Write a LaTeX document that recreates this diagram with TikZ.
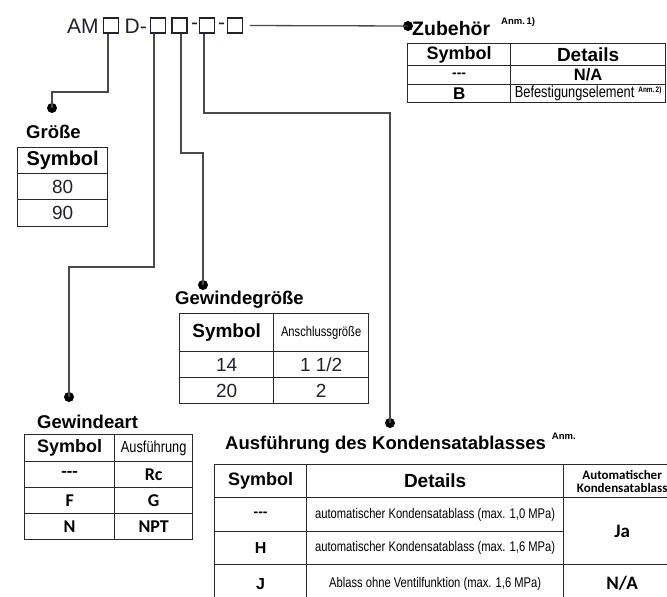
\documentclass[tikz,border=0pt]{standalone}
\usepackage{fontspec}
\setmainfont{Liberation Sans}
\newfontfamily\narrowfont[FakeStretch=0.8]{Liberation Sans}
\newfontfamily\calfont{Carlito}
\usetikzlibrary{positioning}
\definecolor{tabline}{HTML}{2A2A2A}
\definecolor{wireg}{HTML}{4A4A4A}
\definecolor{ink}{HTML}{22222E}
\newcommand{\tdash}{-{}-{}-}
\newcommand{\anmsup}[1]{\raisebox{0.55em}{\bfseries\fontsize{9.5}{10}\selectfont #1}}
\tikzset{
  cbox/.style={draw=ink,line width=1.3pt,minimum size=15pt,inner sep=0pt},
  ctxt/.style={inner sep=0pt,text=ink,font=\fontsize{21}{22}\selectfont},
  dotnode/.style={circle,fill=black,minimum size=10pt,inner sep=0pt},
  wire/.style={draw=wireg,line width=1.3pt},
  grp/.style={anchor=west,inner sep=0pt,font=\bfseries\fontsize{18.5}{20}\selectfont},
  cell/.style={draw=tabline,line width=1.3pt,anchor=north west,inner sep=0pt,align=center},
  hd/.style={font=\bfseries\fontsize{18.5}{20}\selectfont},
  num/.style={font=\fontsize{19}{20}\selectfont,text=ink},
  bsym/.style={font=\bfseries\fontsize{16}{18}\selectfont},
  csym/.style={font=\calfont\bfseries\fontsize{18}{20}\selectfont},
  nar/.style={font=\narrowfont\fontsize{14}{16}\selectfont},
}

\begin{document}
\begin{tikzpicture}[x=1pt,y=-1pt]
  \clip (0,0) rectangle (667,597);
  \fill[white] (0,0) rectangle (667,597);
  % model code
  \node[ctxt,anchor=west] (am) at (67,26) {AM};
  \node[cbox] (b1) at (111,25.5) {};
  \node[ctxt,anchor=west] (dd) at (124.5,26) {D-};
  \node[cbox] (b2) at (158,25.5) {};
  \node[cbox] (b3) at (179.5,25.5) {};
  \node[ctxt] (h1) at (194.5,26) {-};
  \node[cbox] (b4) at (207,25.5) {};
  \node[ctxt] (h2) at (221.5,26) {-};
  \node[cbox] (b5) at (235,25.5) {};
  % dots and bends
  \node[dotnode] (d1) at (52,108) {};
  \node[dotnode] (d2) at (69,397) {};
  \node[dotnode] (d3) at (203,285) {};
  \node[dotnode] (d4) at (390,423) {};
  \node[dotnode] (d5) at (408,26) {};
  \coordinate (k1) at (52,92);
  \coordinate (k2) at (69,267);
  \coordinate (k3) at (203,153);
  \coordinate (k4) at (390,113);
  \draw[wire] ([xshift=-3pt]b1.south) |- (k1) -- (d1.center);
  \draw[wire] ([xshift=-4pt]b2.south) |- (k2) -- (d2.center);
  \draw[wire] ([xshift=1.5pt]b3.south) |- (k3) -- (d3.center);
  \draw[wire] ([xshift=-3pt]b4.south) |- (k4) -- (d4.center);
  \draw[wire,shorten <=7pt] (b5.east) -- (d5.center);
  % group titles
  \node[grp] (t-gr) at (26,132) {Größe};
  \node[grp,font=\bfseries\fontsize{19.5}{21}\selectfont] (t-zb) at (412,27) {Zubehör\hspace{11pt}\anmsup{Anm.\,1)}};
  \node[grp] (t-gg) at (175,300) {Gewindegröße};
  \node[grp] (t-ga) at (37,422) {Gewindeart};
  \node[grp] (t-ka) at (225,443) {Ausführung des Kondensatablasses\hspace{6pt}\anmsup{Anm.}};
  % Groesse
  \node[cell,hd,font=\bfseries\fontsize{20}{22}\selectfont,minimum width=90pt,minimum height=26pt] (gr-h) at (17,147) {Symbol};
  \node[cell,num,minimum width=90pt,minimum height=26pt] (gr-1) at (17,173) {80};
  \node[cell,num,minimum width=90pt,minimum height=27pt] (gr-2) at (17,199) {90};
  % Zubehoer
  \node[cell,hd,font=\bfseries\fontsize{18}{20}\selectfont,minimum width=103pt,minimum height=22pt] (zb-h1) at (407,43) {Symbol};
  \node[cell,hd,font=\bfseries\fontsize{19}{20}\selectfont,minimum width=155pt,minimum height=22pt] (zb-h2) at (510,43) {Details};
  \node[cell,bsym,font=\bfseries\fontsize{14}{16}\selectfont,minimum width=103pt,minimum height=19pt] (zb-11) at (407,65) {\tdash};
  \node[cell,bsym,font=\bfseries\fontsize{16.5}{18}\selectfont,minimum width=155pt,minimum height=19pt] (zb-12) at (510,65) {N/A};
  \node[cell,bsym,font=\bfseries\fontsize{17}{18}\selectfont,minimum width=103pt,minimum height=18pt] (zb-21) at (407,84) {B};
  \node[cell,minimum width=155pt,minimum height=18pt] (zb-22) at (510,84) {{\narrowfont\fontsize{16}{18}\selectfont Befestigungselement}\hspace{4pt}\raisebox{5pt}{\narrowfont\bfseries\fontsize{8}{8}\selectfont Anm.\,2)}};
  % Gewindegroesse
  \node[cell,hd,font=\bfseries\fontsize{19}{20}\selectfont,minimum width=94pt,minimum height=38pt] (gg-h1) at (179,313) {Symbol};
  \node[cell,nar,minimum width=95pt,minimum height=38pt] (gg-h2) at (273,313) {Anschlussgröße};
  \node[cell,num,minimum width=94pt,minimum height=26pt] (gg-11) at (179,351) {14};
  \node[cell,num,minimum width=95pt,minimum height=26pt] (gg-12) at (273,351) {1 1/2};
  \node[cell,num,minimum width=94pt,minimum height=26pt] (gg-21) at (179,377) {20};
  \node[cell,num,minimum width=95pt,minimum height=26pt] (gg-22) at (273,377) {2};
  % Gewindeart
  \node[cell,hd,font=\bfseries\fontsize{18}{20}\selectfont,minimum width=90pt,minimum height=27pt] (ga-h1) at (24,434) {Symbol};
  \node[cell,nar,font=\narrowfont\fontsize{16}{18}\selectfont,minimum width=78pt,minimum height=27pt] (ga-h2) at (114,434) {Ausführung};
  \node[cell,csym,minimum width=90pt,minimum height=26pt] (ga-11) at (24,461) {\tdash};
  \node[cell,csym,minimum width=78pt,minimum height=26pt] (ga-12) at (114,461) {Rc};
  \node[cell,csym,minimum width=90pt,minimum height=26pt] (ga-21) at (24,487) {F};
  \node[cell,csym,minimum width=78pt,minimum height=26pt] (ga-22) at (114,487) {G};
  \node[cell,csym,minimum width=90pt,minimum height=26pt] (ga-31) at (24,513) {N};
  \node[cell,csym,minimum width=78pt,minimum height=26pt] (ga-32) at (114,513) {NPT};
  % Kondensatablass
  \node[cell,hd,font=\bfseries\fontsize{18}{20}\selectfont,minimum width=92pt,minimum height=33pt] (ka-h1) at (214,464) {Symbol};
  \node[cell,hd,font=\bfseries\fontsize{19}{20}\selectfont,minimum width=257pt,minimum height=33pt] (ka-h2) at (306,464) {Details};
  \node[cell,font=\calfont\bfseries\fontsize{13}{13}\selectfont,minimum width=117pt,minimum height=33pt] (ka-h3) at (563,464) {Automatischer\\Kondensatablass};
  \node[cell,bsym,font=\bfseries\fontsize{14}{16}\selectfont,minimum width=92pt,minimum height=34pt] (ka-11) at (214,497) {\tdash};
  \node[cell,nar,minimum width=257pt,minimum height=34pt] (ka-12) at (306,497) {automatischer Kondensatablass (max. 1,0 MPa)};
  \node[cell,bsym,minimum width=92pt,minimum height=33pt] (ka-21) at (214,531) {H};
  \node[cell,nar,minimum width=257pt,minimum height=33pt] (ka-22) at (306,531) {automatischer Kondensatablass (max. 1,6 MPa)};
  \node[cell,csym,font=\calfont\bfseries\fontsize{19}{20}\selectfont,minimum width=117pt,minimum height=67pt] (ka-j) at (563,497) {Ja};
  \node[cell,bsym,minimum width=92pt,minimum height=38pt] (ka-31) at (214,564) {J};
  \node[cell,nar,minimum width=257pt,minimum height=38pt] (ka-32) at (306,564) {Ablass ohne Ventilfunktion (max. 1,6 MPa)};
  \node[cell,csym,font=\calfont\bfseries\fontsize{19}{20}\selectfont,minimum width=117pt,minimum height=38pt] (ka-33) at (563,564) {N/A};
\end{tikzpicture}
\end{document}
